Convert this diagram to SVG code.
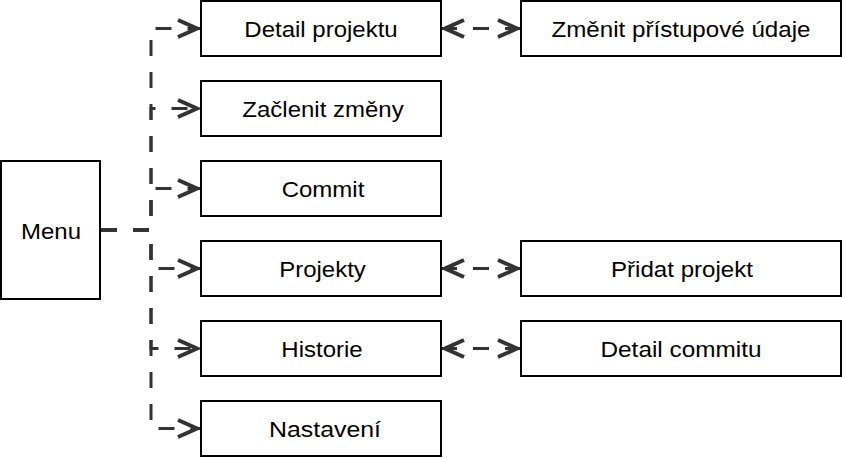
<svg xmlns="http://www.w3.org/2000/svg" width="842" height="458" viewBox="0 0 842 458">
<style>
.box{fill:#ffffff;stroke:#000000;stroke-width:2}
.lbl{font-family:"Liberation Sans",Arial,sans-serif;font-size:21.5px;fill:#000000;text-anchor:middle}
.edge{fill:none;stroke:#333333;stroke-width:3;stroke-dasharray:16 16}
.one{marker-end:url(#arr)}
.two{marker-start:url(#arr);marker-end:url(#arr)}
</style>
<defs>
<marker id="arr" markerUnits="userSpaceOnUse" markerWidth="30" markerHeight="30" viewBox="-25 -15 30 30" refX="4" refY="0" orient="auto-start-reverse" overflow="visible">
<path d="M -19 -8.5 L 0 0 L -19 8.5" fill="none" stroke="#333333" stroke-width="4" stroke-linejoin="miter" stroke-miterlimit="10"/>
</marker>
</defs>
<g id="connectors">
<path class="edge one" d="M 101 230 L 151 230 L 151 28.5 L 201 28.5"/>
<path class="edge one" d="M 101 230 L 151 230 L 151 108.5 L 201 108.5"/>
<path class="edge one" d="M 101 230 L 151 230 L 151 188.5 L 201 188.5"/>
<path class="edge one" d="M 101 230 L 151 230 L 151 268.5 L 201 268.5"/>
<path class="edge one" d="M 101 230 L 151 230 L 151 348.5 L 201 348.5"/>
<path class="edge one" d="M 101 230 L 151 230 L 151 428.5 L 201 428.5"/>
<path class="edge two" d="M 441 28.5 L 521 28.5"/>
<path class="edge two" d="M 441 268.5 L 521 268.5"/>
<path class="edge two" d="M 441 348.5 L 521 348.5"/>
</g>
<g id="menu"><rect class="box" x="1" y="161" width="99" height="138"/><text class="lbl" x="51" y="238.5" textLength="60" lengthAdjust="spacingAndGlyphs">Menu</text></g>
<g id="detail-projektu"><rect class="box" x="201" y="1" width="240" height="55"/><text class="lbl" x="321" y="36.5" textLength="153.4" lengthAdjust="spacingAndGlyphs">Detail projektu</text></g>
<g id="zaclenit-zmeny"><rect class="box" x="201" y="81" width="240" height="55"/><text class="lbl" x="323" y="116.5" textLength="161.4" lengthAdjust="spacingAndGlyphs">Začlenit změny</text></g>
<g id="commit"><rect class="box" x="201" y="161" width="240" height="55"/><text class="lbl" x="323" y="196.5" textLength="82.7" lengthAdjust="spacingAndGlyphs">Commit</text></g>
<g id="projekty"><rect class="box" x="201" y="241" width="240" height="55"/><text class="lbl" x="322.5" y="276.5" textLength="86.7" lengthAdjust="spacingAndGlyphs">Projekty</text></g>
<g id="historie"><rect class="box" x="201" y="321" width="240" height="55"/><text class="lbl" x="322" y="356.5" textLength="81.3" lengthAdjust="spacingAndGlyphs">Historie</text></g>
<g id="nastaveni"><rect class="box" x="201" y="401" width="240" height="55"/><text class="lbl" x="325" y="436.5" textLength="112" lengthAdjust="spacingAndGlyphs">Nastavení</text></g>
<g id="zmenit-pristupove-udaje"><rect class="box" x="521" y="1" width="320" height="55"/><text class="lbl" x="681" y="36.5" textLength="259" lengthAdjust="spacingAndGlyphs">Změnit přístupové údaje</text></g>
<g id="pridat-projekt"><rect class="box" x="521" y="241" width="320" height="55"/><text class="lbl" x="682" y="276.5" textLength="142" lengthAdjust="spacingAndGlyphs">Přidat projekt</text></g>
<g id="detail-commitu"><rect class="box" x="521" y="321" width="320" height="55"/><text class="lbl" x="681" y="356.5" textLength="161" lengthAdjust="spacingAndGlyphs">Detail commitu</text></g>
</svg>
